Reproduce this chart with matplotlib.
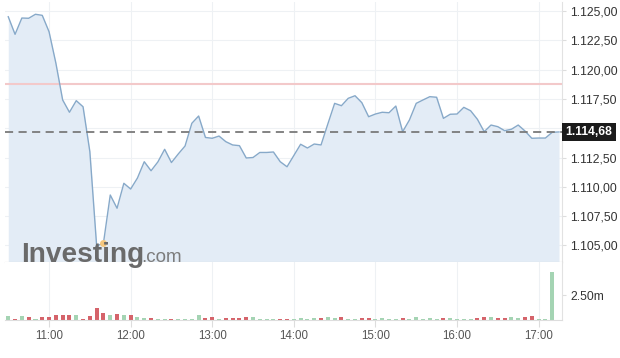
import matplotlib
matplotlib.use("Agg")
import matplotlib.pyplot as plt
import numpy as np

plt.rcParams['font.family'] = ['Liberation Sans', 'DejaVu Sans']

# ---- data ----
start_minute = 630          # 10:30
step_minutes = 5
price = [1.12451, 1.12301, 1.12440, 1.12438, 1.12472, 1.12463, 1.12323, 1.12056,
         1.11741, 1.11636, 1.11735, 1.11683, 1.11300, 1.10495, 1.10520, 1.10930,
         1.10817, 1.11030, 1.10981, 1.11075, 1.11214, 1.11137, 1.11212, 1.11320,
         1.11207, 1.11280, 1.11348, 1.11542, 1.11604, 1.11421, 1.11414, 1.11433,
         1.11385, 1.11357, 1.11351, 1.11246, 1.11250, 1.11293, 1.11293, 1.11297,
         1.11214, 1.11171, 1.11267, 1.11363, 1.11331, 1.11365, 1.11357, 1.11536,
         1.11712, 1.11692, 1.11755, 1.11777, 1.11718, 1.11598, 1.11621, 1.11636,
         1.11632, 1.11689, 1.11470, 1.11570, 1.11712, 1.11741, 1.11769, 1.11764,
         1.11584, 1.11619, 1.11621, 1.11678, 1.11649, 1.11576, 1.11470, 1.11527,
         1.11513, 1.11479, 1.11491, 1.11527, 1.11476, 1.11414, 1.11416, 1.11416,
         1.11465, 1.11468]
volume_k = [430, 100, 430, 270, 100, 270, 270, 470, 470, 470, 470, 130, 370, 1170,
            730, 500, 630, 530, 470, 330, 170, 170, 70, 130, 130, 100, 130, 130,
            470, 170, 330, 70, 170, 230, 170, 270, 270, 100, 70, 70, 130, 100, 70,
            170, 100, 170, 200, 300, 170, 330, 70, 70, 200, 200, 70, 170, 130, 70,
            200, 70, 270, 70, 170, 100, 170, 170, 70, 130, 100, 170, 270, 270, 170,
            170, 270, 170, 270, 370, 70, 70, 4770]
volume_up = "GRGRGRRRRRGRRRRGRGRGGRGGRGGGGRRGRRRRGGGGRRGGGGRGGRGGRRGGGGRGGGGGRGGGGRRGRRGGRRGGG"
prev_close = 1.11877
last_price = 1.11468
last_label = "1.114,68"
price_ticks = [1.105, 1.1075, 1.110, 1.1125, 1.115, 1.1175, 1.120, 1.1225, 1.125]
price_tick_labels = ["1.105,00", "1.107,50", "1.110,00", "1.112,50", "", "1.117,50",
                     "1.120,00", "1.122,50", "1.125,00"]
time_ticks = [660, 720, 780, 840, 900, 960, 1020]
time_labels = ["11:00", "12:00", "13:00", "14:00", "15:00", "16:00", "17:00"]
vol_ticks = [2.5e6]
vol_tick_labels = ["2.50m"]
low_index = 14

t = start_minute + step_minutes * np.arange(len(price))
tv = start_minute + step_minutes * np.arange(len(volume_k))
vol = np.array(volume_k) * 1000.0
vcols = ['#a4d4b3' if c == 'G' else '#d5636a' for c in volume_up]

W, H = 620, 358
fig = plt.figure(figsize=(W / 100, H / 100), dpi=100)
fig.patch.set_facecolor('white')

ax = fig.add_axes([5 / W, 1 - 262 / H, 557 / W, 260 / H])
axv = fig.add_axes([5 / W, 1 - 320 / H, 557 / W, 58 / H], sharex=ax)

xlim = (627.6, 1037.2)
ylo, yhi = 1.103584, 1.125768

grid_c = '#eef1f4'
# price panel
ax.set_xlim(*xlim)
ax.set_ylim(ylo, yhi)
for y in price_ticks:
    ax.axhline(y, color=grid_c, lw=0.8, zorder=0)
for x in time_ticks:
    ax.axvline(x, color=grid_c, lw=0.8, zorder=0)
ax.fill_between(t, price, ylo, color='#e3ecf6', zorder=1, lw=0)
ax.plot(t, price, color='#87a9c9', lw=1.0, zorder=3)
ax.axhline(prev_close, color='#f3c9ca', lw=1.5, zorder=2)
ax.axhline(last_price, color='#7a7a7a', lw=1.3, ls=(0, (4.5, 3)), zorder=4)
ax.plot([t[low_index]], [price[low_index]], 'o', color='#f5c77e', ms=5, mec='none', zorder=5)

ax.yaxis.tick_right()
ax.set_yticks(price_ticks)
ax.set_yticklabels(price_tick_labels)
ax.tick_params(axis='y', length=3, color='#dddddd', pad=3, labelsize=8.7, labelcolor='#333333')
ax.tick_params(axis='x', bottom=False, labelbottom=False)
for s in ['top', 'left']:
    ax.spines[s].set_visible(False)
ax.spines['right'].set_color('#e2e2e2')
ax.spines['bottom'].set_color('#c8c8c8')

ax.annotate(last_label, xy=(1.0, last_price), xycoords=('axes fraction', 'data'),
            xytext=(2.6, 0), textcoords='offset points', ha='left', va='center',
            fontsize=8.7, fontweight='bold', color='white',
            bbox=dict(boxstyle='square,pad=0.28', fc='#1b1b1b', ec='none'),
            annotation_clip=False, zorder=10)

# volume panel
axv.set_ylim(0, 5.8e6)
for x in time_ticks:
    axv.axvline(x, color=grid_c, lw=0.8, zorder=0)
axv.bar(tv, vol, width=3.0, color=vcols, zorder=2, lw=0)
axv.yaxis.tick_right()
axv.set_yticks(vol_ticks)
axv.set_yticklabels(vol_tick_labels)
axv.tick_params(axis='y', length=3, color='#dddddd', pad=3, labelsize=8.7, labelcolor='#333333')
axv.set_xticks(time_ticks)
axv.set_xticklabels(time_labels)
axv.tick_params(axis='x', length=5, color='#dddddd', pad=2.5, labelsize=8.3, labelcolor='#555555')
for s in ['top', 'left']:
    axv.spines[s].set_visible(False)
axv.spines['right'].set_color('#e2e2e2')
axv.spines['bottom'].set_color('#dddddd')

# watermark
fig.text(20.7 / W, 1 - 262.5 / H, "Investing", fontsize=20.2, fontweight='bold',
         color='#6a6a6a', ha='left', va='baseline', zorder=20)
fig.text(141.5 / W, 1 - 262.5 / H, ".com", fontsize=13.5, color='#7c7c7c',
         ha='left', va='baseline', zorder=20)

fig.savefig('out.png', dpi=100, facecolor='white')
